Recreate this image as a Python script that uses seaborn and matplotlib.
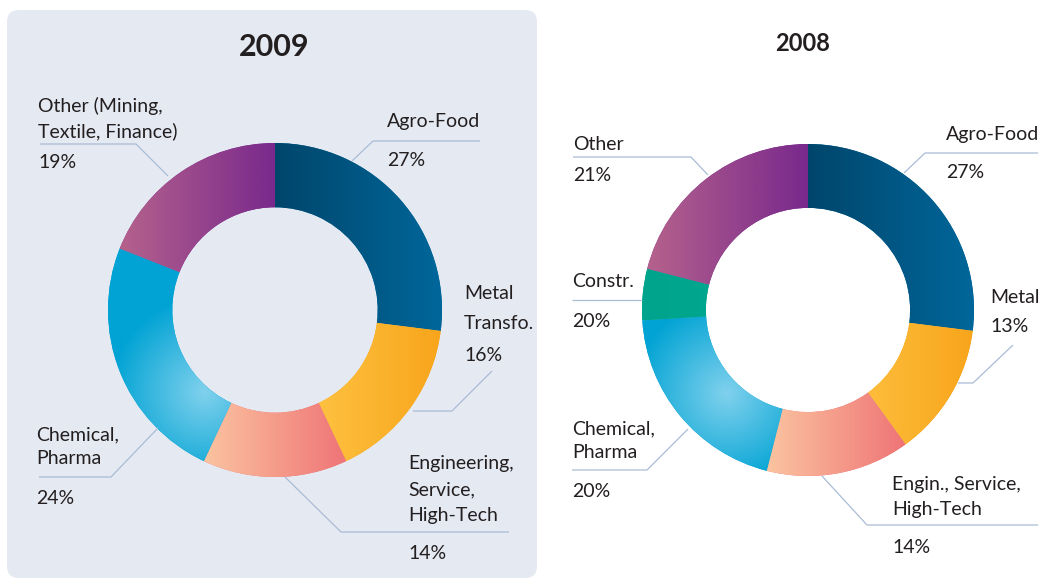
import numpy as np
import matplotlib
matplotlib.use("Agg")
import matplotlib.pyplot as plt
from matplotlib.patches import FancyBboxPatch
import seaborn as sns

# ---------------- data ----------------
years = ["2009", "2008"]

sectors_2009 = ["Agro-Food", "Metal\nTransfo.", "Engineering,\nService,\nHigh-Tech",
                "Chemical,\nPharma", "Other (Mining,\nTextile, Finance)"]
shares_2009 = [27, 16, 14, 24, 19]
pct_labels_2009 = ["27%", "16%", "14%", "24%", "19%"]

sectors_2008 = ["Agro-Food", "Metal", "Engin., Service,\nHigh-Tech",
                "Chemical,\nPharma", "Constr.", "Other"]
shares_2008 = [27, 13, 14, 20, 5, 21]          # slice sizes as drawn
pct_labels_2008 = ["27%", "13%", "14%", "20%", "20%", "21%"]  # printed labels

# ---------------- styling ----------------
sns.set_theme(style="white")
plt.rcParams["font.family"] = ["Lato", "DejaVu Sans"]

W, H = 1040, 580
TXT = "#231f20"
LEAD = "#a9bcd6"
PANEL = "#e5e9f2"
FS = 14

# gradient styles per sector: (kind, colour start, colour end)
grad_2009 = [("h", "#00466b", "#00679b"), ("h", "#ffcb4d", "#f8a51b"),
             ("h", "#fbc4a0", "#ef7476"), ("r", "#80d1ed", "#00a3d4"),
             ("h", "#b5628c", "#79298c")]
grad_2008 = [("h", "#00466b", "#00679b"), ("h", "#ffcb4d", "#f8a51b"),
             ("h", "#fbc4a0", "#ef7476"), ("r", "#80d1ed", "#00a3d4"),
             ("h", "#00a48c", "#00aa92"), ("h", "#b5628c", "#79298c")]

fig = plt.figure(figsize=(W / 100, H / 100), dpi=100)
fig.patch.set_facecolor("white")
ax = fig.add_axes([0, 0, 1, 1])


def Y(y):
    return H - y


# left background panel
ax.add_patch(FancyBboxPatch((7, Y(578)), 530, 568,
                            boxstyle="round,pad=0,rounding_size=12",
                            facecolor=PANEL, edgecolor="none", zorder=0))


def donut(shares, center, r, grads, spot):
    cx, cy = center
    wedges, _ = ax.pie(shares, center=(cx, Y(cy)), radius=r, startangle=90,
                       counterclock=False, normalize=True,
                       wedgeprops=dict(width=r * 0.385, linewidth=0))
    for w, (kind, c1, c2) in zip(wedges, grads):
        w.set_facecolor(c2)
        w.set_zorder(1)
        v = w.get_path().vertices
        x0, x1 = v[:, 0].min(), v[:, 0].max()
        y0, y1 = v[:, 1].min(), v[:, 1].max()
        cmap = sns.blend_palette([c1, c2], as_cmap=True)
        if kind == "h":
            img = np.tile(np.linspace(0, 1, 256), (2, 1))
        else:
            xs = np.linspace(x0, x1, 300)
            ys = np.linspace(y0, y1, 300)
            XX, YY = np.meshgrid(xs, ys)
            d = np.hypot(XX - spot[0], YY - Y(spot[1])) / 95.0
            img = np.clip(d, 0, 1)
        im = ax.imshow(img, cmap=cmap, vmin=0, vmax=1, extent=(x0, x1, y0, y1),
                       origin="lower", aspect="auto", interpolation="bilinear",
                       zorder=2)
        im.set_clip_path(w)
    return wedges


donut(shares_2009, (275, 310), 167, grad_2009, (205, 392))
donut(shares_2008, (808, 310), 166, grad_2008, (727, 393))

# ---------------- labels & leader lines (layout) ----------------
layout_2009 = [
    # x, name baselines, pct baseline, leader path
    (387, [127], 166, [(352, 161), (373, 141), (480, 141)]),
    (464, [299, 329], 361, [(492, 371), (452, 411), (413, 411)]),
    (408, [469, 495, 521], 559, [(285, 477), (341, 532), (509, 532)]),
    (36, [440, 464], 504, [(158, 428), (111, 477), (39, 477)]),
    (38, [112, 137], 168, [(168, 176), (136, 144), (40, 144)]),
]
layout_2008 = [
    (946, [140], 178, [(904, 173), (925, 153), (1038, 153)]),
    (990, [303], 332, [(1013, 345), (973, 383), (958, 383)]),
    (892, [490, 515], 553, [(822, 476), (867, 525), (1038, 525)]),
    (572, [434, 458], 497, [(688, 429), (647, 470), (572, 470)]),
    (572, [287], 327, [(642, 300), (572, 300)]),
    (573, [150], 181, [(708, 175), (691, 157), (573, 157)]),
]


def annotate(sectors, pcts, layout):
    for name, pct, (x, bases, pb, path) in zip(sectors, pcts, layout):
        for b, line in zip(bases, name.split("\n")):
            ax.text(x, Y(b), line, fontsize=FS, color=TXT, ha="left",
                    va="baseline", zorder=4)
        ax.text(x, Y(pb), pct, fontsize=FS, color=TXT, ha="left",
                va="baseline", zorder=4)
        px = [p[0] for p in path]
        py = [Y(p[1]) for p in path]
        ax.plot(px, py, color=LEAD, lw=0.9, zorder=3, solid_capstyle="butt")


annotate(sectors_2009, pct_labels_2009, layout_2009)
annotate(sectors_2008, pct_labels_2008, layout_2008)

# titles
ax.text(274, Y(56), years[0], fontsize=22, fontweight="bold", color=TXT,
        ha="center", va="baseline")
ax.text(803, Y(51), years[1], fontsize=17, fontweight="bold", color=TXT,
        ha="center", va="baseline")

ax.set_xlim(0, W)
ax.set_ylim(0, H)
ax.set_aspect("auto")
ax.axis("off")

fig.savefig("out.png", dpi=100, facecolor="white")
